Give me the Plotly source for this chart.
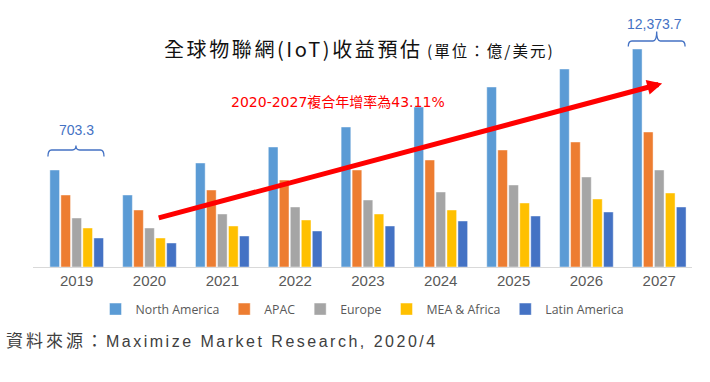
import plotly.graph_objects as go

# ---- data (relative bar heights; value axis hidden) ----
years = ["2019", "2020", "2021", "2022", "2023", "2024", "2025", "2026", "2027"]
north_america = [97, 72, 104, 120, 140, 160, 180, 198, 218]
apac = [72, 57, 77, 87, 97, 107, 117, 125, 135]
europe = [49, 39, 53, 60, 67, 75, 82, 90, 97]
mea_africa = [39, 29, 41, 47, 53, 57, 64, 68, 74]
latin_america = [29, 24, 31, 36, 41, 46, 51, 55, 60]

series_names = ["North America", "APAC", "Europe", "MEA & Africa", "Latin America"]
series_values = [north_america, apac, europe, mea_africa, latin_america]
series_colors = ["#5B9BD5", "#ED7D31", "#A5A5A5", "#FFC000", "#4472C4"]

label_first = "703.3"
label_last = "12,373.7"

xs = list(range(len(years)))

fig = go.Figure()
for name, vals, col in zip(series_names, series_values, series_colors):
    fig.add_trace(go.Bar(
        x=xs, y=vals, name=name,
        marker=dict(color=col, line=dict(color="rgba(255,255,255,0.55)", width=0.8)),
        hoverinfo="skip",
    ))

fig.update_layout(
    width=710, height=382,
    margin=dict(l=33, r=18, t=15, b=115),
    paper_bgcolor="white", plot_bgcolor="white",
    barmode="group", bargap=0.245, bargroupgap=0.12,
    showlegend=True,
    legend=dict(orientation="h", x=0.5, xanchor="center", y=-0.167, yanchor="middle",
                font=dict(family="Open Sans, Liberation Sans", size=12.3, color="#595959"),
                itemwidth=30, traceorder="normal"),
    xaxis=dict(range=[-0.6, 8.45], tickmode="array", tickvals=xs, ticktext=years,
               showgrid=False, zeroline=False, showline=True, linecolor="#D9D9D9", linewidth=1,
               ticks="", tickfont=dict(family="Liberation Sans Narrow, Liberation Sans", size=15, color="#595959"),
               fixedrange=True),
    yaxis=dict(range=[0, 252], visible=False, fixedrange=True),
)

def brace(xc, half, yb, yt, ytip):
    x0, x1 = xc - half, xc + half
    dx = 0.05
    return (f"M {x0},{yb} Q {x0},{yt} {x0+dx},{yt} L {xc-dx},{yt} Q {xc},{yt} {xc},{ytip} "
            f"Q {xc},{yt} {xc+dx},{yt} L {x1-dx},{yt} Q {x1},{yt} {x1},{yb}")

fig.add_shape(type="path", xref="x", yref="y",
              path=brace(-0.01, 0.385, 110.5, 117, 121.5),
              line=dict(color="#4472C4", width=1.3))
fig.add_shape(type="path", xref="x", yref="y",
              path=brace(7.965, 0.39, 220.5, 226, 235.5),
              line=dict(color="#4472C4", width=1.3))

fig.add_annotation(x=0.0, y=137.5, xref="x", yref="y", text=label_first, showarrow=False,
                   font=dict(family="Liberation Sans", size=14, color="#4472C4"))
fig.add_annotation(x=7.94, y=243.5, xref="x", yref="y", text=label_last, showarrow=False,
                   font=dict(family="Liberation Sans", size=14, color="#4472C4"))

# growth arrow
fig.add_annotation(x=8.04, y=183.5, xref="x", yref="y", ax=1.106, ay=48.7, axref="x", ayref="y",
                   text="", showarrow=True, arrowhead=2, arrowsize=0.6, arrowwidth=5,
                   arrowcolor="#FF0000")

fig.add_annotation(x=0.4624, y=0.6956, xref="paper", yref="paper",
                   text="2020-2027複合年增率為43.11%", showarrow=False,
                   font=dict(family="DejaVu Sans, Noto Sans CJK TC", size=14, color="#FF0000"))

fig.add_annotation(x=0.4947, y=0.9325, xref="paper", yref="paper",
                   text=("<span style='letter-spacing:2.6px'>全球物聯網(IoT)收益預估</span> "
                         "<span style='font-size:15.5px;letter-spacing:2px'>(單位：億/美元)</span>"),
                   showarrow=False,
                   font=dict(family="Noto Sans CJK TC", size=20, color="#111111"))

fig.add_annotation(x=-0.044, y=-0.341, xref="paper", yref="paper", xanchor="left",
                   text=("<span style='font-size:17px;letter-spacing:3px'>資料來源：</span>"
                         "<span style='letter-spacing:2.5px'>Maximize Market Research, 2020/4</span>"),
                   showarrow=False,
                   font=dict(family="Liberation Sans, Noto Sans CJK TC", size=16, color="#404040"))

fig.write_html("out.html", post_script="document.body.style.margin='0';",
               config={"displayModeBar": False})
